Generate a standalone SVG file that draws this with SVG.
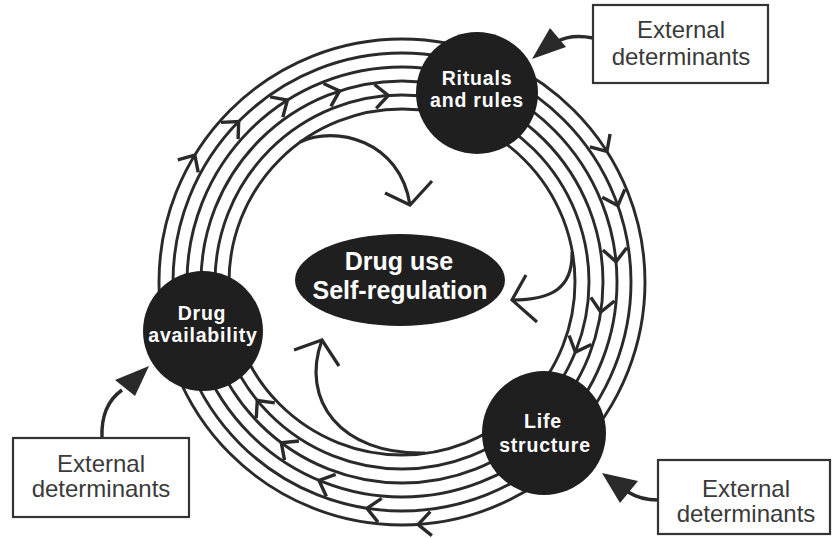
<svg xmlns="http://www.w3.org/2000/svg" width="835" height="538" viewBox="0 0 835 538">
<style>
.ring{fill:none;stroke:#2a2a2a;stroke-width:2.9}
.chev{fill:none;stroke:#2a2a2a;stroke-width:3.4;stroke-linejoin:miter;stroke-linecap:butt}
.curve{fill:none;stroke:#2a2a2a;stroke-width:3.2}
.ext{fill:none;stroke:#2a2a2a;stroke-width:3.4}
.head{fill:#2a2a2a;stroke:none}
.node{fill:#1f1f1f}
.ntext{font-family:"Liberation Sans",Arial,sans-serif;font-weight:bold;font-size:19.5px;fill:#ffffff;text-anchor:middle;letter-spacing:0.8px}
.ctext{font-family:"Liberation Sans",Arial,sans-serif;font-weight:bold;font-size:25px;fill:#ffffff;text-anchor:middle}
.box{fill:#ffffff;stroke:#333333;stroke-width:2.2}
.btext{font-family:"Liberation Sans",Arial,sans-serif;font-size:24px;fill:#3a3a3a;text-anchor:middle}
</style>
<defs>
<path id="chv" d="M-13,-12 L0,0 L-13,12"/>
</defs>
<rect width="835" height="538" fill="#ffffff"/>
<g id="connectors">
  <circle class="ring" cx="402" cy="282" r="243"/>
  <circle class="ring" cx="402" cy="282" r="229"/>
  <circle class="ring" cx="402" cy="282" r="215"/>
  <circle class="ring" cx="402" cy="282" r="201"/>
  <circle class="ring" cx="402" cy="282" r="187"/>
  <circle class="ring" cx="402" cy="282" r="173"/>
  <g class="chev">
    <use href="#chv" transform="translate(402,282) rotate(211.5) translate(243,0) rotate(90)"/>
    <use href="#chv" transform="translate(402,282) rotate(224.5) translate(229,0) rotate(90)"/>
    <use href="#chv" transform="translate(402,282) rotate(237.8) translate(215,0) rotate(90)"/>
    <use href="#chv" transform="translate(402,282) rotate(251.9) translate(201,0) rotate(90)"/>
    <use href="#chv" transform="translate(402,282) rotate(265.8) translate(187,0) rotate(90)"/>
    <use href="#chv" transform="translate(402,282) rotate(327.5) translate(243,0) rotate(90)"/>
    <use href="#chv" transform="translate(402,282) rotate(340.5) translate(229,0) rotate(90)"/>
    <use href="#chv" transform="translate(402,282) rotate(354.6) translate(215,0) rotate(90)"/>
    <use href="#chv" transform="translate(402,282) rotate(8.6) translate(201,0) rotate(90)"/>
    <use href="#chv" transform="translate(402,282) rotate(22) translate(187,0) rotate(90)"/>
    <use href="#chv" transform="translate(402,282) rotate(86.2) translate(243,0) rotate(90)"/>
    <use href="#chv" transform="translate(402,282) rotate(98.8) translate(229,0) rotate(90)"/>
    <use href="#chv" transform="translate(402,282) rotate(112.7) translate(215,0) rotate(90)"/>
    <use href="#chv" transform="translate(402,282) rotate(126.9) translate(201,0) rotate(90)"/>
    <use href="#chv" transform="translate(402,282) rotate(140.7) translate(187,0) rotate(90)"/>
  </g>
  <path class="curve" d="M300,142 C335,125 400,140 410,205"/>
  <path class="curve" d="M385,193 L410,205 L432,181"/>
  <path class="curve" d="M572,252 C573,288 552,300 512,300"/>
  <path class="curve" d="M526,275 L512,300 L537,322"/>
  <path class="curve" d="M425,453 C340,455 300,400 322,340"/>
  <path class="curve" d="M294,350 L322,340 L339,366"/>
  <path class="ext" d="M593,38 C578,35 565,37 556,42"/>
  <polygon class="head" points="532,59 550,28 566,47"/>
  <path class="ext" d="M102,438 C101,415 108,400 122,390"/>
  <polygon class="head" points="149,366 115,380 135,396"/>
  <path class="ext" d="M658,500 C645,500 636,497 628,492"/>
  <polygon class="head" points="602,473 620,503 638,481"/>
</g>
<g id="rituals">
  <circle class="node" cx="477" cy="93" r="61"/>
  <text class="ntext" x="477" y="85">Rituals</text>
  <text class="ntext" x="477" y="107">and rules</text>
</g>
<g id="drug-availability">
  <circle class="node" cx="203" cy="331" r="60"/>
  <text class="ntext" x="202" y="320">Drug</text>
  <text class="ntext" x="203" y="342">availability</text>
</g>
<g id="life-structure">
  <circle class="node" cx="544" cy="433" r="62"/>
  <text class="ntext" x="543" y="428">Life</text>
  <text class="ntext" x="545" y="452">structure</text>
</g>
<g id="drug-use">
  <ellipse class="node" cx="400" cy="280" rx="105" ry="46"/>
  <text class="ctext" x="399" y="270">Drug use</text>
  <text class="ctext" x="400" y="299">Self-regulation</text>
</g>
<g id="ext-top">
  <rect class="box" x="593" y="5" width="175" height="78"/>
  <text class="btext" x="681" y="38">External</text>
  <text class="btext" x="681" y="65">determinants</text>
</g>
<g id="ext-left">
  <rect class="box" x="13" y="438" width="176" height="79"/>
  <text class="btext" x="101" y="472">External</text>
  <text class="btext" x="101" y="497">determinants</text>
</g>
<g id="ext-right">
  <rect class="box" x="658" y="460" width="172" height="74"/>
  <text class="btext" x="746" y="497">External</text>
  <text class="btext" x="746" y="522">determinants</text>
</g>
</svg>
